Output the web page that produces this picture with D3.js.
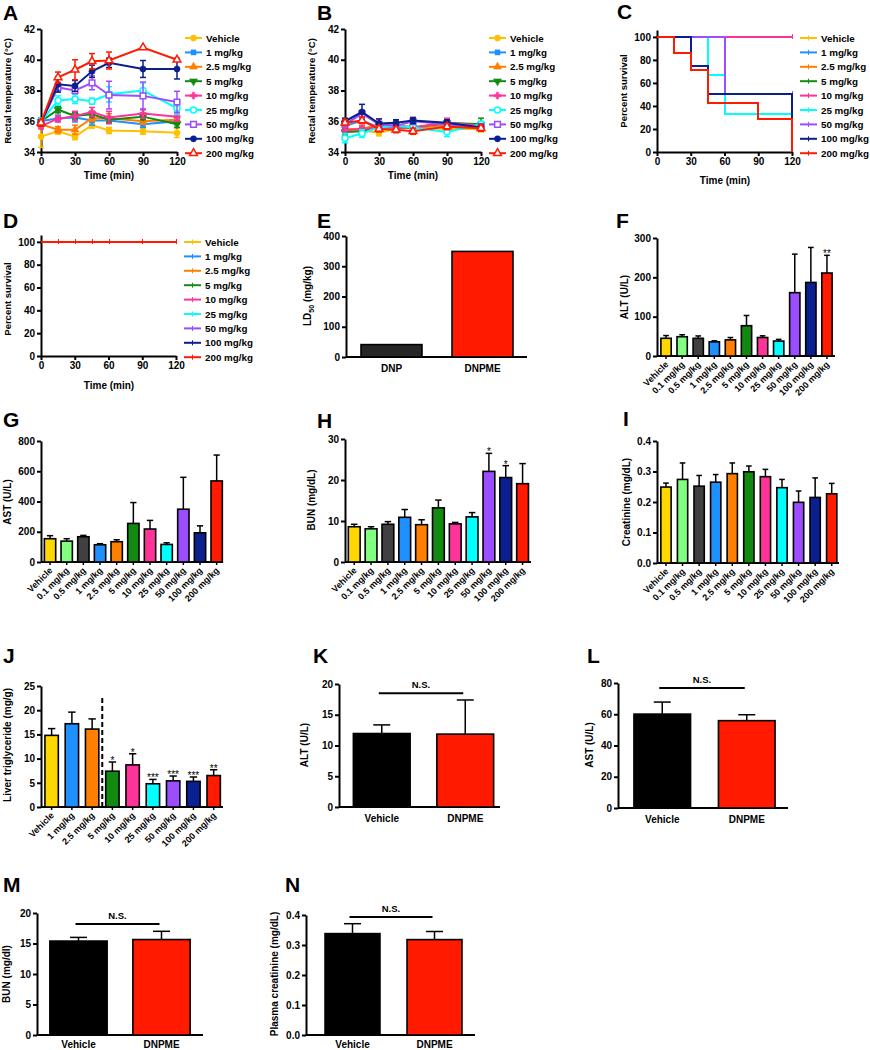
<!DOCTYPE html>
<html><head><meta charset="utf-8">
<script src="https://cdn.jsdelivr.net/npm/d3@7"></script>
<style>body{margin:0;background:#fff;}</style>
</head><body>
<script>
// ---------------- DATA ----------------
const timePoints = [0, 15, 30, 45, 60, 90, 120];
const timeTicks = [0, 30, 60, 90, 120];
const doseLegend = ["Vehicle","1 mg/kg","2.5 mg/kg","5 mg/kg","10 mg/kg","25 mg/kg","50 mg/kg","100 mg/kg","200 mg/kg"];
const lineColors = ["#FFC000","#1E90FF","#FF7F00","#138A13","#FF3399","#00FFFF","#9B4DFF","#0A1E8C","#FF1A00"];
const markerTypes = ["circle","square","triangle","tridown","cross","ocircle","osquare","circle","otriangle"];

// Panel A: rectal temperature (mean, error) per dose
const tempA_mean = [
  [35.0, 35.35, 35.0, 35.75, 35.4, 35.35, 35.25],
  [36.0, 36.2, 36.25, 36.05, 36.05, 35.8, 36.0],
  [35.8, 35.45, 35.45, 36.2, 36.2, 36.0, 36.1],
  [36.0, 36.75, 36.35, 36.45, 36.1, 36.3, 35.8],
  [35.7, 36.15, 36.35, 36.6, 36.25, 36.5, 36.3],
  [36.0, 37.35, 37.45, 37.3, 37.75, 38.0, 36.85],
  [35.9, 38.2, 38.0, 38.5, 37.7, 37.65, 37.25],
  [35.9, 38.4, 38.3, 39.25, 39.8, 39.4, 39.4],
  [35.9, 38.85, 39.35, 39.9, 39.95, 40.8, 40.0]
];
const tempA_err = [
  [0.7, 0.2, 0.2, 0.2, 0.2, 0.2, 0.3],
  [0.2, 0.2, 0.3, 0.3, 0.2, 0.2, 0.2],
  [0.2, 0.2, 0.3, 0.2, 0.3, 0.2, 0.2],
  [0.2, 0.2, 0.2, 0.2, 0.2, 0.2, 0.2],
  [0.2, 0.2, 0.3, 0.3, 0.4, 0.3, 0.3],
  [0.2, 0.3, 0.3, 0.2, 0.5, 0.5, 0.4],
  [0.2, 0.3, 0.2, 0.45, 0.9, 0.9, 0.7],
  [0.2, 0.5, 0.35, 0.4, 0.3, 0.55, 0.65],
  [0.2, 0.35, 0.65, 0.5, 0.55, 0.05, 0.1]
];
// Panel B
const tempB_mean = [
  [35.3, 35.4, 35.25, 35.5, 35.6, 35.5, 35.5],
  [35.7, 36.05, 35.6, 35.6, 35.6, 35.8, 35.7],
  [35.5, 35.5, 35.8, 35.8, 35.6, 35.7, 35.6],
  [35.3, 35.35, 35.7, 35.6, 35.6, 35.9, 35.8],
  [35.4, 35.5, 35.6, 35.6, 35.6, 35.9, 35.7],
  [34.9, 35.2, 35.6, 35.7, 35.6, 35.3, 35.8],
  [35.8, 36.5, 35.8, 35.7, 36.0, 35.8, 35.6],
  [36.0, 36.6, 35.85, 35.9, 36.05, 35.9, 35.6],
  [35.9, 36.05, 35.5, 35.45, 35.35, 35.65, 35.55]
];
const tempB_err = [
  [0.2, 0.2, 0.2, 0.2, 0.2, 0.2, 0.2],
  [0.2, 0.2, 0.2, 0.2, 0.2, 0.2, 0.2],
  [0.2, 0.2, 0.35, 0.2, 0.2, 0.2, 0.2],
  [0.2, 0.2, 0.2, 0.2, 0.2, 0.2, 0.4],
  [0.2, 0.2, 0.2, 0.2, 0.2, 0.3, 0.2],
  [0.3, 0.25, 0.2, 0.2, 0.2, 0.3, 0.2],
  [0.2, 0.2, 0.2, 0.2, 0.2, 0.2, 0.2],
  [0.2, 0.5, 0.3, 0.2, 0.2, 0.2, 0.2],
  [0.2, 0.2, 0.2, 0.2, 0.2, 0.2, 0.2]
];
// Panel C survival: [time, percent] change points
const survC = [
  [[0,100],[120,100]],
  [[0,100],[120,100]],
  [[0,100],[120,100]],
  [[0,100],[120,100]],
  [[0,100],[120,100]],
  [[0,100],[45,66.7],[60,33.3],[120,33.3]],
  [[0,100],[60,50],[120,50]],
  [[0,100],[30,75],[45,50],[120,25]],
  [[0,100],[15,85.7],[30,71.4],[45,42.9],[90,28.6],[120,0]]
];
// Panel D survival
const survD = [
  [[0,100],[120,100]],[[0,100],[120,100]],[[0,100],[120,100]],
  [[0,100],[120,100]],[[0,100],[120,100]],[[0,100],[120,100]],
  [[0,100],[120,100]],[[0,100],[120,100]],[[0,100],[120,100]]
];
const survD_censor = [15, 30, 45, 60, 90, 120];

// Panel E
const ldCats = ["DNP","DNPME"];
const ldVals = [41, 349];

// Panels F-I
const doseCats11 = ["Vehicle","0.1 mg/kg","0.5 mg/kg","1 mg/kg","2.5 mg/kg","5 mg/kg","10 mg/kg","25 mg/kg","50 mg/kg","100 mg/kg","200 mg/kg"];
const barColors11 = ["#FFD700","#80FF80","#404040","#1E90FF","#FF8000","#128A12","#FF3399","#00FFFF","#9B4DFF","#0A2090","#FF1A00"];
const altF = [45, 49, 45, 36, 41, 77, 47, 38, 161, 187, 211];
const altF_err = [7, 5, 6, 2.6, 6, 26, 4.3, 4.3, 98, 89, 45];
const altF_sig = ["","","","","","","","","","","**"];
const astG = [154, 138, 167, 114, 134, 255, 218, 116, 349, 193, 536];
const astG_err = [20, 16, 9, 7, 13, 138, 57, 11, 211, 46, 171];
const bunH = [8.6, 8.1, 9.2, 10.9, 9.1, 13.2, 9.3, 11.0, 22.1, 20.6, 19.1];
const bunH_err = [0.6, 0.5, 0.65, 1.9, 1.2, 1.9, 0.35, 1.05, 4.4, 2.9, 4.9];
const bunH_sig = ["","","","","","","","","*","*",""];
const creaI = [0.249, 0.274, 0.252, 0.265, 0.293, 0.299, 0.283, 0.247, 0.199, 0.215, 0.227];
const creaI_err = [0.013, 0.054, 0.035, 0.025, 0.035, 0.019, 0.024, 0.027, 0.037, 0.064, 0.034];

// Panel J
const doseCats9 = ["Vehicle","1 mg/kg","2.5 mg/kg","5 mg/kg","10 mg/kg","25 mg/kg","50 mg/kg","100 mg/kg","200 mg/kg"];
const barColors9 = ["#FFD700","#1E90FF","#FF8000","#128A12","#FF3399","#00FFFF","#9B4DFF","#0A2090","#FF1A00"];
const tgJ = [14.8, 17.2, 16.1, 7.4, 8.7, 4.8, 5.4, 5.3, 6.5];
const tgJ_err = [1.4, 2.4, 2.1, 1.9, 2.3, 0.9, 1.0, 0.9, 1.2];
const tgJ_sig = ["","","","*","*","***","***","***","**"];

// Panels K-N
const vdCats = ["Vehicle","DNPME"];
const altK = [11.95, 11.85], altK_err = [1.4, 5.55], altK_ns = 18.5;
const astL = [60.1, 55.9], astL_err = [7.7, 3.8], astL_ns = 76.8;
const bunM = [15.4, 15.65], bunM_err = [0.6, 1.35], bunM_ns = 18.2;
const creaN = [0.338, 0.318], creaN_err = [0.033, 0.027], creaN_ns = 0.393;

// ---------------- DRAWING ----------------
const FONT = '"Liberation Sans", Arial, sans-serif';
const svg = d3.select("body").append("svg")
  .attr("width", 870).attr("height", 1050)
  .style("font-family", FONT).style("font-weight", "bold");

function styleAxis(g, fs) {
  g.attr("font-family", FONT).attr("font-size", fs || 10).attr("font-weight", "bold");
  g.select(".domain").attr("stroke", "#000").attr("stroke-width", 2);
  g.selectAll(".tick line").attr("stroke", "#000").attr("stroke-width", 2);
  g.selectAll(".tick text").attr("fill", "#000");
}
function letter(t, x, y) {
  svg.append("text").attr("x", x).attr("y", y).attr("font-size", 21).text(t);
}
function yTitle(txt, x, y, fs) {
  return svg.append("text").attr("transform", `translate(${x},${y}) rotate(-90)`)
    .attr("text-anchor", "middle").attr("font-size", fs || 10).text(txt);
}
function xTitle(txt, x, y) {
  svg.append("text").attr("x", x).attr("y", y).attr("text-anchor", "middle").attr("font-size", 10).text(txt);
}
function drawMarker(g, type, color, cx, cy) {
  let sym = d3.symbolCircle, rot = 0, open = false, size = 30;
  if (type === "square") { sym = d3.symbolSquare; size = 26; }
  if (type === "triangle") { sym = d3.symbolTriangle; size = 28; }
  if (type === "tridown") { sym = d3.symbolTriangle; size = 28; rot = 180; }
  if (type === "cross") { sym = d3.symbolCross; size = 24; }
  if (type === "ocircle") { open = true; size = 28; }
  if (type === "osquare") { sym = d3.symbolSquare; open = true; size = 32; }
  if (type === "otriangle") { sym = d3.symbolTriangle; open = true; size = 26; }
  g.append("path").attr("d", d3.symbol().type(sym).size(size)())
    .attr("transform", `translate(${cx},${cy}) rotate(${rot})`)
    .attr("fill", open ? "#fff" : color).attr("stroke", color)
    .attr("stroke-width", open ? 1.5 : 0.5);
}

function timeAxes(g, x, y, yTicks, x0, yBot, fmt) {
  g.append("g").attr("transform", `translate(0,${yBot})`)
    .call(d3.axisBottom(x).tickValues(timeTicks).tickSize(4).tickSizeOuter(0).tickPadding(2))
    .call(s => styleAxis(s, 10));
  const ya = g.append("g").attr("transform", `translate(${x0},0)`)
    .call(d3.axisLeft(y).tickValues(yTicks).tickSize(4).tickSizeOuter(0).tickPadding(2).tickFormat(fmt || d3.format("d")))
    .call(s => styleAxis(s, 10));
  return ya;
}

function lineChart(o) {
  const x = d3.scaleLinear().domain([0, 120]).range([o.x0, o.x1]);
  const y = d3.scaleLinear().domain([34, 42]).range([o.yBot, o.yTop]);
  const g = svg.append("g");
  timeAxes(g, x, y, [34, 36, 38, 40, 42], o.x0, o.yBot);
  o.means.forEach((m, i) => {
    const c = lineColors[i];
    const pts = timePoints.map((t, j) => ({ t, v: m[j], e: o.errs[i][j] }));
    g.append("path").datum(pts)
      .attr("d", d3.line().x(d => x(d.t)).y(d => y(d.v)))
      .attr("fill", "none").attr("stroke", c).attr("stroke-width", 2);
    pts.forEach(d => {
      const cx = x(d.t), y1 = y(d.v + d.e), y2 = y(d.v - d.e);
      g.append("line").attr("x1", cx).attr("x2", cx).attr("y1", y1).attr("y2", y2)
        .attr("stroke", c).attr("stroke-width", 1.5);
      [y1, y2].forEach(yy => g.append("line").attr("x1", cx - 3).attr("x2", cx + 3)
        .attr("y1", yy).attr("y2", yy).attr("stroke", c).attr("stroke-width", 1.5));
      drawMarker(g, markerTypes[i], c, cx, y(d.v));
    });
  });
  legend(g, o.lx, o.ly, true);
}

function legend(g, lx, ly, markers) {
  doseLegend.forEach((name, i) => {
    const yy = ly + i * 14.4, c = lineColors[i];
    g.append("line").attr("x1", lx).attr("x2", lx + 17).attr("y1", yy).attr("y2", yy)
      .attr("stroke", c).attr("stroke-width", 2);
    if (markers) drawMarker(g, markerTypes[i], c, lx + 8.5, yy);
    else g.append("line").attr("x1", lx + 8.5).attr("x2", lx + 8.5).attr("y1", yy - 2.5).attr("y2", yy + 2.5)
      .attr("stroke", c).attr("stroke-width", 1);
    g.append("text").attr("x", lx + 21).attr("y", yy).attr("dy", "0.36em")
      .attr("font-size", 9.8).text(name);
  });
}

function survChart(o) {
  const x = d3.scaleLinear().domain([0, 120]).range([o.x0, o.x1]);
  const y = d3.scaleLinear().domain([0, 106]).range([o.yBot, o.yTop]);
  const g = svg.append("g");
  timeAxes(g, x, y, [0, 20, 40, 60, 80, 100], o.x0, o.yBot);
  o.data.forEach((s, i) => {
    const c = lineColors[i];
    g.append("path").datum(s)
      .attr("d", d3.line().curve(d3.curveStepAfter).x(d => Math.round(x(d[0]))).y(d => Math.round(y(d[1]))))
      .attr("fill", "none").attr("stroke", c).attr("stroke-width", 2);
    const last = s[s.length - 1];
    const marks = o.censor ? o.censor : (last[1] > 0 ? [120] : []);
    marks.forEach(t => {
      const v = last[1];
      const xx = Math.round(x(t)) + 0.5, yy = Math.round(y(v));
      g.append("line").attr("x1", xx).attr("x2", xx).attr("y1", yy - 3).attr("y2", yy + 2)
        .attr("stroke", c).attr("stroke-width", 1);
    });
  });
  legend(g, o.lx, o.ly, false);
}

function barChart(o) {
  const x = d3.scaleBand().domain(o.cats).range([o.bL, o.bR])
    .paddingInner(o.pad).paddingOuter(o.pad / 2);
  const y = d3.scaleLinear().domain([0, o.ymax]).range([o.yBot, o.yTop]);
  const g = svg.append("g");
  const bw = x.bandwidth();
  // axes
  g.append("line").attr("x1", o.x0).attr("x2", o.x1).attr("y1", o.yBot).attr("y2", o.yBot)
    .attr("stroke", "#000").attr("stroke-width", 2);
  g.append("g").attr("transform", `translate(${o.x0},0)`)
    .call(d3.axisLeft(y).tickValues(o.ticks).tickSize(4).tickSizeOuter(0).tickPadding(2)
      .tickFormat(o.fmt || d3.format("d")))
    .call(s => styleAxis(s, 10));
  // dashed divider
  if (o.dashAt !== undefined) {
    const xd = (x(o.cats[o.dashAt - 1]) + bw + x(o.cats[o.dashAt])) / 2;
    g.append("line").attr("x1", xd).attr("x2", xd).attr("y1", y(o.dashTop)).attr("y2", o.yBot)
      .attr("stroke", "#000").attr("stroke-width", 2).attr("stroke-dasharray", "5,3");
  }
  // bars
  o.vals.forEach((v, i) => {
    const bx = x(o.cats[i]);
    g.append("rect").attr("x", bx).attr("y", y(v)).attr("width", bw).attr("height", y(0) - y(v))
      .attr("fill", o.colors[i]).attr("stroke", "#000").attr("stroke-width", 1.6);
    if (o.errs) {
      const cx = bx + bw / 2, yt = y(v + o.errs[i]);
      const cap = Math.min(bw * 0.55, 17) / 2;
      g.append("line").attr("x1", cx).attr("x2", cx).attr("y1", y(v)).attr("y2", yt)
        .attr("stroke", "#000").attr("stroke-width", 1.5);
      g.append("line").attr("x1", cx - cap).attr("x2", cx + cap).attr("y1", yt).attr("y2", yt)
        .attr("stroke", "#000").attr("stroke-width", 1.5);
      if (o.sig && o.sig[i]) {
        g.append("text").attr("x", cx).attr("y", yt + 4).attr("text-anchor", "middle")
          .attr("font-size", 10).attr("font-weight", "normal").attr("dy", "-0.2em").text(o.sig[i]);
      }
    }
    // category labels
    const cx = bx + bw / 2;
    if (o.rotate) {
      g.append("line").attr("x1", cx).attr("x2", cx).attr("y1", o.yBot).attr("y2", o.yBot + 3)
        .attr("stroke", "#000").attr("stroke-width", 1.5);
      g.append("text").attr("transform", `translate(${cx + 3},${o.yBot + 9}) rotate(-45)`)
        .attr("text-anchor", "end").attr("font-size", 9).text(o.cats[i]);
    } else {
      g.append("text").attr("x", cx).attr("y", o.yBot + (o.labDy || 15)).attr("text-anchor", "middle")
        .attr("font-size", 10).text(o.cats[i]);
    }
  });
  if (o.ns !== undefined) {
    const c1 = x(o.cats[0]) + bw / 2 - 3, c2 = x(o.cats[1]) + bw / 2 - 2;
    g.append("line").attr("x1", c1).attr("x2", c2).attr("y1", y(o.ns)).attr("y2", y(o.ns))
      .attr("stroke", "#000").attr("stroke-width", 2);
    g.append("text").attr("x", (c1 + c2) / 2).attr("y", y(o.ns) - 5).attr("text-anchor", "middle")
      .attr("font-size", 9.5).text("N.S.");
  }
}

// ---- A ----
letter("A", 3, 20);
lineChart({ x0: 41, x1: 177, yTop: 29, yBot: 152, means: tempA_mean, errs: tempA_err, lx: 185, ly: 38 });
yTitle("Rectal temperature (°C)", 11, 91, 9.5);
xTitle("Time (min)", 109, 179);
// ---- B ----
letter("B", 317, 20);
lineChart({ x0: 345, x1: 481, yTop: 29, yBot: 152, means: tempB_mean, errs: tempB_err, lx: 489, ly: 38 });
yTitle("Rectal temperature (°C)", 315, 91, 9.5);
xTitle("Time (min)", 413, 179);
// ---- C ----
letter("C", 617, 19);
survChart({ x0: 657, x1: 792, yTop: 30, yBot: 152, data: survC, lx: 800, ly: 38 });
yTitle("Percent survival", 627, 91, 9.5);
xTitle("Time (min)", 725, 184);
// ---- D ----
letter("D", 3, 228);
survChart({ x0: 41, x1: 176, yTop: 235, yBot: 356, data: survD, censor: survD_censor, lx: 184, ly: 242 });
yTitle("Percent survival", 11, 299, 9.5);
xTitle("Time (min)", 109, 389);
// ---- E ----
letter("E", 317, 228);
barChart({ cats: ldCats, vals: ldVals, colors: ["#262626", "#FF1A00"], bL: 346, bR: 528, pad: 0.33,
  x0: 346, x1: 527, yTop: 236, yBot: 357, ymax: 400, ticks: [0, 100, 200, 300, 400] });
{
  const t = svg.append("text").attr("transform", "translate(311,296) rotate(-90)")
    .attr("text-anchor", "middle").attr("font-size", 10);
  t.append("tspan").text("LD");
  t.append("tspan").attr("font-size", 7).attr("dy", 3).text("50");
  t.append("tspan").attr("dy", -3).text(" (mg/kg)");
}
// ---- F ----
letter("F", 616, 228);
barChart({ cats: doseCats11, vals: altF, errs: altF_err, sig: altF_sig, colors: barColors11,
  bL: 658, bR: 835, pad: 0.36, x0: 657, x1: 835, yTop: 238, yBot: 356, ymax: 300,
  ticks: [0, 100, 200, 300], rotate: true });
yTitle("ALT (U/L)", 628, 297);
// ---- G ----
letter("G", 3, 427);
barChart({ cats: doseCats11, vals: astG, errs: astG_err, colors: barColors11,
  bL: 41.7, bR: 225, pad: 0.32, x0: 41, x1: 223, yTop: 441, yBot: 562, ymax: 800,
  ticks: [0, 200, 400, 600, 800], rotate: true });
yTitle("AST (U/L)", 11, 502);
// ---- H ----
letter("H", 317, 428);
barChart({ cats: doseCats11, vals: bunH, errs: bunH_err, sig: bunH_sig, colors: barColors11,
  bL: 345.8, bR: 531, pad: 0.3, x0: 345, x1: 531, yTop: 439, yBot: 562, ymax: 30,
  ticks: [0, 10, 20, 30], rotate: true });
yTitle("BUN (mg/dL)", 315, 500);
// ---- I ----
letter("I", 623, 426);
barChart({ cats: doseCats11, vals: creaI, errs: creaI_err, colors: barColors11,
  bL: 657.7, bR: 840, pad: 0.38, x0: 657, x1: 839, yTop: 441, yBot: 563, ymax: 0.4,
  ticks: [0, 0.1, 0.2, 0.3, 0.4], fmt: d3.format(".1f"), rotate: true });
yTitle("Creatinine (mg/dL)", 630, 502);
// ---- J ----
letter("J", 3, 663);
barChart({ cats: doseCats9, vals: tgJ, errs: tgJ_err, sig: tgJ_sig, colors: barColors9,
  bL: 41.5, bR: 223.8, pad: 0.34, x0: 41, x1: 223, yTop: 686, yBot: 807, ymax: 25,
  ticks: [0, 5, 10, 15, 20, 25], rotate: true, dashAt: 3, dashTop: 22.5 });
yTitle("Liver triglyceride (mg/g)", 11, 745);
// ---- K ----
letter("K", 313, 663);
barChart({ cats: vdCats, vals: altK, errs: altK_err, ns: altK_ns, colors: ["#000", "#FF1A00"],
  bL: 340, bR: 507, pad: 0.32, x0: 339, x1: 500, yTop: 684, yBot: 807, ymax: 20,
  ticks: [0, 5, 10, 15, 20] });
yTitle("ALT (U/L)", 308, 745);
// ---- L ----
letter("L", 587, 663);
barChart({ cats: vdCats, vals: astL, errs: astL_err, ns: astL_ns, colors: ["#000", "#FF1A00"],
  bL: 620, bR: 789, pad: 0.33, x0: 618, x1: 788, yTop: 683, yBot: 808, ymax: 80,
  ticks: [0, 20, 40, 60, 80] });
yTitle("AST (U/L)", 593, 745);
// ---- M ----
letter("M", 3, 892);
barChart({ cats: vdCats, vals: bunM, errs: bunM_err, ns: bunM_ns, colors: ["#000", "#FF1A00"],
  bL: 37, bR: 203, pad: 0.31, x0: 37, x1: 203, yTop: 913, yBot: 1035, ymax: 20,
  ticks: [0, 5, 10, 15, 20], labDy: 13 });
yTitle("BUN (mg/dl)", 10, 974);
// ---- N ----
letter("N", 285, 892);
barChart({ cats: vdCats, vals: creaN, errs: creaN_err, ns: creaN_ns, colors: ["#000", "#FF1A00"],
  bL: 311.5, bR: 475.5, pad: 0.33, x0: 306, x1: 475, yTop: 915, yBot: 1035, ymax: 0.4,
  ticks: [0, 0.1, 0.2, 0.3, 0.4], fmt: d3.format(".1f"), labDy: 13 });
yTitle("Plasma creatinine (mg/dL)", 278, 974);
</script>
</body></html>
